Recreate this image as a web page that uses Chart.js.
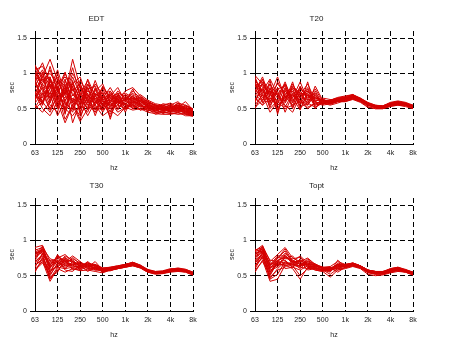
<!DOCTYPE html>
<html>
<head>
<meta charset="utf-8">
<script src="https://cdn.jsdelivr.net/npm/chart.js@4"></script>
<style>
  body { margin: 0; background: #fff; }
  .panel { position: absolute; width: 231px; height: 180px; }
</style>
</head>
<body>
<div class="panel" style="left:0;top:0"><canvas id="edt"></canvas></div>
<div class="panel" style="left:220px;top:0"><canvas id="t20"></canvas></div>
<div class="panel" style="left:0;top:167px"><canvas id="t30"></canvas></div>
<div class="panel" style="left:220px;top:167px"><canvas id="topt"></canvas></div>
<script>
// bandes 1/3 octave, 63 Hz -> 8 kHz
const bandes = [63, 80, 100, 125, 160, 200, 250, 315, 400, 500, 630, 800, 1000, 1250, 1600, 2000, 2500, 3150, 4000, 5000, 6300, 8000];
const etiquettesOctaves = ["63", "125", "250", "500", "1k", "2k", "4k", "8k"];
const ticksSec = [0, 0.5, 1, 1.5];

// EDT (sec)
const edt = [
  [1.10,0.95,1.20,0.90,0.70,1.20,0.80,0.75,0.70,0.65,0.70,0.60,0.62,0.65,0.60,0.55,0.52,0.50,0.48,0.50,0.47,0.45],
  [0.50,0.60,0.45,0.70,0.35,0.55,0.40,0.60,0.45,0.55,0.50,0.55,0.50,0.55,0.50,0.48,0.45,0.45,0.44,0.42,0.43,0.40],
  [0.90,1.05,0.80,0.95,0.60,0.85,0.95,0.65,0.85,0.70,0.75,0.60,0.70,0.60,0.62,0.58,0.50,0.52,0.55,0.50,0.48,0.46],
  [0.75,0.55,0.95,0.60,0.80,0.50,0.70,0.55,0.65,0.60,0.55,0.65,0.55,0.68,0.55,0.52,0.48,0.50,0.47,0.52,0.45,0.44],
  [1.00,0.85,0.70,1.00,0.55,0.70,0.60,0.80,0.55,0.75,0.35,0.70,0.60,0.58,0.65,0.50,0.53,0.48,0.50,0.55,0.50,0.48],
  [0.65,0.80,0.55,0.45,0.90,0.60,0.35,0.70,0.60,0.50,0.65,0.50,0.58,0.50,0.57,0.55,0.45,0.47,0.52,0.46,0.45,0.42],
  [0.85,0.70,1.10,0.75,0.65,0.95,0.70,0.90,0.60,0.65,0.80,0.62,0.75,0.80,0.68,0.60,0.55,0.53,0.50,0.58,0.55,0.50],
  [0.55,0.45,0.60,0.80,0.50,0.40,0.55,0.45,0.70,0.48,0.60,0.45,0.52,0.55,0.48,0.50,0.42,0.45,0.43,0.45,0.40,0.40],
  [1.05,1.10,0.90,0.70,1.00,0.75,0.85,0.60,0.75,0.85,0.60,0.75,0.65,0.62,0.70,0.62,0.57,0.55,0.52,0.48,0.52,0.47],
  [0.70,0.95,0.65,0.85,0.45,0.65,0.50,0.65,0.50,0.60,0.55,0.60,0.48,0.60,0.55,0.47,0.50,0.43,0.47,0.50,0.42,0.43],
  [0.80,0.60,0.85,0.55,0.75,0.85,0.65,0.50,0.80,0.55,0.70,0.55,0.65,0.52,0.62,0.57,0.52,0.55,0.58,0.52,0.60,0.48],
  [0.95,0.75,0.50,0.65,0.60,0.45,0.75,0.55,0.45,0.65,0.45,0.68,0.55,0.70,0.52,0.53,0.47,0.50,0.45,0.47,0.48,0.41],
  [0.60,1.00,0.75,0.50,0.85,0.30,0.60,0.75,0.65,0.45,0.62,0.58,0.70,0.58,0.60,0.52,0.50,0.48,0.53,0.55,0.46,0.45],
  [1.12,0.90,1.00,0.85,0.95,0.80,0.55,0.85,0.70,0.72,0.50,0.65,0.45,0.65,0.58,0.60,0.55,0.52,0.48,0.50,0.53,0.44],
  [0.72,0.50,0.40,0.60,0.30,0.55,0.32,0.50,0.55,0.40,0.48,0.40,0.52,0.48,0.50,0.45,0.43,0.42,0.42,0.44,0.42,0.39],
  [0.88,0.65,0.78,1.05,0.70,1.00,0.80,0.60,0.90,0.62,0.68,0.80,0.60,0.75,0.65,0.55,0.50,0.57,0.55,0.60,0.50,0.47],
  [0.95,1.15,0.85,0.65,0.80,0.60,0.90,0.70,0.55,0.80,0.65,0.72,0.68,0.55,0.62,0.58,0.55,0.47,0.50,0.53,0.50,0.46],
  [0.62,0.85,1.05,0.75,0.50,0.90,0.45,0.85,0.62,0.58,0.42,0.62,0.57,0.62,0.55,0.50,0.48,0.52,0.46,0.48,0.44,0.42],
  [1.08,0.78,0.62,0.92,0.82,0.55,0.72,0.48,0.78,0.52,0.75,0.58,0.62,0.72,0.60,0.56,0.50,0.49,0.51,0.55,0.52,0.47],
  [0.78,0.92,0.70,0.40,0.62,0.78,0.58,0.72,0.40,0.68,0.52,0.70,0.50,0.58,0.53,0.54,0.46,0.52,0.49,0.45,0.47,0.43],
  [0.92,0.55,0.88,0.78,1.02,0.68,0.82,0.58,0.68,0.78,0.58,0.48,0.66,0.62,0.67,0.59,0.54,0.48,0.54,0.50,0.55,0.49],
  [0.58,0.72,0.48,0.82,0.42,0.88,0.62,0.40,0.60,0.50,0.68,0.60,0.56,0.52,0.58,0.46,0.52,0.46,0.48,0.52,0.43,0.41],
  [1.02,0.88,0.95,0.58,0.72,1.08,0.68,0.78,0.82,0.60,0.62,0.68,0.72,0.66,0.63,0.61,0.53,0.55,0.50,0.57,0.51,0.46],
  [0.68,0.62,0.72,0.70,0.58,0.48,0.85,0.62,0.48,0.72,0.55,0.52,0.60,0.78,0.56,0.49,0.47,0.50,0.56,0.49,0.49,0.44],
  [0.82,1.02,0.58,0.88,0.68,0.62,0.52,0.92,0.68,0.55,0.72,0.62,0.52,0.60,0.66,0.57,0.51,0.53,0.47,0.54,0.46,0.45],
  [0.52,0.68,0.82,0.52,0.78,0.72,0.62,0.52,0.72,0.62,0.38,0.66,0.63,0.50,0.54,0.52,0.49,0.44,0.52,0.47,0.50,0.43],
  [0.98,0.82,0.65,0.72,0.92,0.58,0.78,0.68,0.58,0.82,0.66,0.56,0.70,0.64,0.61,0.53,0.56,0.51,0.45,0.51,0.54,0.48],
  [0.74,0.58,0.92,0.62,0.48,0.82,0.42,0.80,0.52,0.48,0.58,0.72,0.54,0.56,0.48,0.55,0.44,0.47,0.50,0.58,0.45,0.42]
];

// T20 (sec)
const t20 = [
  [0.97,0.85,0.70,0.95,0.65,0.80,0.70,0.75,0.65,0.62,0.60,0.63,0.65,0.68,0.63,0.57,0.53,0.52,0.56,0.58,0.56,0.53],
  [0.55,0.70,0.45,0.60,0.50,0.55,0.60,0.50,0.58,0.55,0.57,0.60,0.60,0.64,0.60,0.53,0.50,0.50,0.54,0.55,0.54,0.51],
  [0.80,0.90,0.75,0.70,0.85,0.65,0.88,0.62,0.78,0.60,0.62,0.65,0.67,0.70,0.64,0.58,0.55,0.53,0.58,0.60,0.57,0.54],
  [0.65,0.55,0.80,0.50,0.70,0.75,0.50,0.70,0.55,0.58,0.55,0.58,0.62,0.65,0.61,0.55,0.52,0.51,0.55,0.57,0.55,0.52],
  [0.90,0.75,0.60,0.80,0.60,0.85,0.65,0.80,0.60,0.65,0.63,0.62,0.66,0.67,0.62,0.56,0.53,0.53,0.57,0.58,0.58,0.53],
  [0.70,0.60,0.90,0.42,0.78,0.50,0.75,0.55,0.70,0.57,0.58,0.61,0.64,0.66,0.62,0.57,0.52,0.51,0.55,0.59,0.55,0.52],
  [0.60,0.80,0.55,0.75,0.45,0.70,0.55,0.88,0.50,0.63,0.60,0.64,0.63,0.69,0.65,0.58,0.54,0.54,0.58,0.57,0.56,0.55],
  [0.85,0.65,0.78,0.65,0.88,0.60,0.80,0.65,0.72,0.59,0.61,0.62,0.65,0.66,0.63,0.56,0.53,0.52,0.56,0.60,0.57,0.53],
  [0.75,0.95,0.65,0.55,0.65,0.78,0.58,0.60,0.65,0.61,0.56,0.60,0.61,0.64,0.60,0.55,0.51,0.52,0.54,0.56,0.55,0.51],
  [0.50,0.72,0.85,0.68,0.55,0.45,0.68,0.72,0.52,0.60,0.59,0.63,0.66,0.68,0.64,0.57,0.54,0.53,0.57,0.58,0.57,0.54],
  [0.88,0.58,0.70,0.85,0.72,0.68,0.62,0.55,0.82,0.62,0.60,0.61,0.62,0.65,0.62,0.56,0.52,0.52,0.56,0.57,0.56,0.52],
  [0.68,0.85,0.50,0.62,0.62,0.82,0.72,0.68,0.60,0.56,0.62,0.64,0.64,0.70,0.63,0.57,0.53,0.51,0.56,0.59,0.58,0.53],
  [0.92,0.72,0.62,0.58,0.80,0.58,0.82,0.62,0.68,0.58,0.62,0.66,0.68,0.70,0.65,0.59,0.55,0.54,0.59,0.61,0.59,0.55],
  [0.58,0.88,0.68,0.72,0.52,0.72,0.60,0.78,0.55,0.64,0.58,0.60,0.60,0.63,0.59,0.52,0.50,0.50,0.53,0.55,0.53,0.50],
  [0.78,0.62,0.85,0.55,0.62,0.88,0.52,0.58,0.75,0.56,0.61,0.63,0.64,0.67,0.62,0.56,0.52,0.52,0.57,0.58,0.57,0.53],
  [0.62,0.78,0.52,0.78,0.82,0.62,0.70,0.85,0.62,0.62,0.57,0.62,0.63,0.66,0.63,0.57,0.53,0.53,0.55,0.57,0.56,0.52],
  [0.95,0.68,0.75,0.60,0.58,0.75,0.62,0.52,0.58,0.60,0.60,0.64,0.65,0.69,0.64,0.58,0.54,0.53,0.57,0.59,0.57,0.54],
  [0.72,0.92,0.58,0.88,0.68,0.55,0.78,0.68,0.70,0.57,0.59,0.61,0.62,0.64,0.61,0.55,0.52,0.51,0.55,0.56,0.55,0.51],
  [0.52,0.62,0.75,0.45,0.75,0.65,0.48,0.75,0.58,0.59,0.62,0.65,0.66,0.68,0.64,0.57,0.54,0.54,0.58,0.60,0.58,0.54],
  [0.82,0.75,0.92,0.70,0.60,0.80,0.66,0.62,0.66,0.61,0.58,0.62,0.64,0.67,0.62,0.56,0.53,0.52,0.56,0.58,0.56,0.53],
  [0.66,0.55,0.65,0.62,0.85,0.52,0.72,0.58,0.52,0.58,0.60,0.63,0.65,0.68,0.63,0.57,0.53,0.53,0.57,0.59,0.57,0.52],
  [0.85,0.82,0.72,0.48,0.68,0.70,0.58,0.70,0.62,0.63,0.59,0.62,0.63,0.66,0.62,0.56,0.52,0.52,0.56,0.57,0.56,0.53]
];

// T30 (sec)
const t30 = [
  [0.90,0.93,0.70,0.75,0.80,0.70,0.65,0.68,0.64,0.60,0.62,0.64,0.66,0.68,0.64,0.58,0.55,0.56,0.58,0.59,0.57,0.54],
  [0.60,0.70,0.42,0.60,0.55,0.60,0.57,0.58,0.56,0.54,0.58,0.60,0.62,0.64,0.61,0.55,0.53,0.54,0.57,0.57,0.56,0.52],
  [0.80,0.85,0.65,0.78,0.70,0.78,0.70,0.62,0.70,0.58,0.60,0.63,0.65,0.67,0.63,0.57,0.54,0.55,0.58,0.58,0.57,0.53],
  [0.70,0.78,0.50,0.68,0.62,0.65,0.60,0.65,0.60,0.56,0.59,0.61,0.63,0.66,0.62,0.56,0.54,0.55,0.57,0.58,0.56,0.53],
  [0.85,0.80,0.72,0.65,0.78,0.72,0.62,0.70,0.62,0.59,0.61,0.62,0.64,0.68,0.64,0.58,0.55,0.55,0.58,0.59,0.58,0.54],
  [0.55,0.75,0.55,0.72,0.58,0.56,0.66,0.60,0.58,0.57,0.57,0.60,0.63,0.65,0.62,0.56,0.53,0.54,0.56,0.57,0.56,0.52],
  [0.75,0.90,0.60,0.80,0.65,0.68,0.58,0.67,0.66,0.61,0.60,0.63,0.65,0.69,0.64,0.57,0.55,0.56,0.59,0.59,0.57,0.54],
  [0.65,0.72,0.48,0.55,0.75,0.62,0.64,0.56,0.62,0.55,0.58,0.62,0.64,0.66,0.62,0.56,0.54,0.54,0.57,0.58,0.56,0.52],
  [0.88,0.82,0.68,0.70,0.68,0.74,0.68,0.64,0.66,0.60,0.61,0.62,0.66,0.67,0.63,0.57,0.54,0.55,0.58,0.59,0.57,0.53],
  [0.72,0.88,0.58,0.62,0.72,0.58,0.62,0.69,0.59,0.58,0.59,0.61,0.63,0.66,0.63,0.57,0.54,0.55,0.57,0.58,0.57,0.53],
  [0.62,0.82,0.45,0.58,0.68,0.66,0.70,0.62,0.64,0.57,0.60,0.63,0.66,0.69,0.65,0.58,0.56,0.57,0.60,0.60,0.59,0.55],
  [0.78,0.92,0.62,0.72,0.60,0.70,0.64,0.66,0.58,0.60,0.58,0.60,0.62,0.65,0.61,0.55,0.52,0.53,0.55,0.56,0.55,0.51],
  [0.58,0.68,0.52,0.66,0.74,0.60,0.58,0.63,0.65,0.55,0.59,0.62,0.64,0.67,0.63,0.57,0.55,0.55,0.58,0.59,0.57,0.53],
  [0.82,0.86,0.66,0.76,0.66,0.76,0.66,0.60,0.61,0.59,0.61,0.63,0.65,0.68,0.64,0.58,0.54,0.56,0.58,0.60,0.58,0.54],
  [0.68,0.76,0.56,0.64,0.70,0.64,0.61,0.68,0.63,0.58,0.57,0.61,0.63,0.66,0.62,0.56,0.53,0.54,0.56,0.58,0.56,0.52],
  [0.86,0.90,0.74,0.70,0.76,0.68,0.67,0.65,0.60,0.61,0.62,0.64,0.66,0.69,0.65,0.59,0.56,0.56,0.59,0.61,0.59,0.55],
  [0.64,0.74,0.46,0.62,0.60,0.62,0.63,0.58,0.62,0.56,0.58,0.60,0.62,0.64,0.61,0.55,0.53,0.53,0.56,0.57,0.55,0.51],
  [0.76,0.84,0.62,0.74,0.72,0.70,0.60,0.66,0.64,0.60,0.60,0.62,0.65,0.67,0.63,0.57,0.54,0.55,0.58,0.59,0.57,0.53],
  [0.70,0.80,0.64,0.69,0.64,0.66,0.65,0.62,0.60,0.57,0.59,0.62,0.64,0.66,0.62,0.56,0.54,0.55,0.57,0.58,0.57,0.53],
  [0.80,0.88,0.54,0.78,0.70,0.72,0.63,0.64,0.65,0.59,0.61,0.63,0.64,0.68,0.64,0.58,0.55,0.56,0.58,0.60,0.58,0.54]
];

// Topt (sec)
const topt = [
  [0.85,0.93,0.70,0.80,0.90,0.75,0.70,0.75,0.66,0.62,0.63,0.70,0.66,0.67,0.64,0.58,0.56,0.55,0.60,0.62,0.58,0.55],
  [0.55,0.72,0.42,0.45,0.65,0.60,0.45,0.62,0.58,0.56,0.48,0.58,0.60,0.63,0.60,0.52,0.50,0.51,0.54,0.56,0.55,0.51],
  [0.80,0.88,0.65,0.78,0.78,0.70,0.78,0.68,0.65,0.60,0.58,0.66,0.64,0.66,0.63,0.57,0.55,0.54,0.58,0.60,0.57,0.54],
  [0.70,0.80,0.50,0.70,0.68,0.65,0.62,0.60,0.62,0.58,0.55,0.72,0.62,0.65,0.61,0.55,0.53,0.52,0.56,0.58,0.56,0.52],
  [0.82,0.85,0.68,0.65,0.75,0.78,0.65,0.72,0.64,0.61,0.62,0.60,0.65,0.67,0.64,0.58,0.55,0.56,0.59,0.60,0.58,0.54],
  [0.60,0.78,0.55,0.72,0.60,0.62,0.70,0.58,0.60,0.59,0.60,0.64,0.63,0.64,0.62,0.56,0.52,0.53,0.55,0.59,0.56,0.52],
  [0.75,0.90,0.60,0.75,0.85,0.68,0.60,0.70,0.67,0.60,0.57,0.62,0.66,0.68,0.64,0.57,0.56,0.55,0.58,0.61,0.57,0.54],
  [0.65,0.75,0.48,0.58,0.62,0.72,0.66,0.65,0.59,0.57,0.61,0.55,0.62,0.65,0.62,0.55,0.54,0.53,0.57,0.57,0.56,0.53],
  [0.88,0.82,0.62,0.68,0.72,0.62,0.74,0.63,0.63,0.62,0.59,0.66,0.65,0.66,0.63,0.56,0.54,0.54,0.58,0.60,0.58,0.54],
  [0.72,0.86,0.58,0.62,0.80,0.66,0.64,0.67,0.61,0.58,0.60,0.63,0.63,0.67,0.63,0.57,0.53,0.55,0.57,0.59,0.57,0.53],
  [0.62,0.84,0.45,0.52,0.70,0.66,0.72,0.64,0.62,0.57,0.62,0.60,0.64,0.66,0.63,0.57,0.55,0.55,0.59,0.61,0.58,0.54],
  [0.78,0.92,0.64,0.74,0.88,0.70,0.66,0.70,0.64,0.60,0.56,0.68,0.65,0.68,0.64,0.58,0.56,0.56,0.60,0.62,0.59,0.55],
  [0.58,0.70,0.52,0.68,0.64,0.64,0.50,0.60,0.60,0.58,0.52,0.60,0.61,0.64,0.61,0.54,0.52,0.52,0.55,0.57,0.55,0.51],
  [0.84,0.88,0.66,0.76,0.74,0.74,0.76,0.66,0.66,0.62,0.60,0.64,0.66,0.67,0.64,0.58,0.55,0.55,0.58,0.61,0.58,0.54],
  [0.68,0.78,0.56,0.66,0.66,0.68,0.68,0.62,0.60,0.59,0.58,0.62,0.63,0.65,0.62,0.56,0.53,0.54,0.57,0.59,0.57,0.53],
  [0.86,0.90,0.72,0.70,0.82,0.72,0.62,0.74,0.65,0.61,0.61,0.65,0.65,0.68,0.64,0.58,0.56,0.55,0.59,0.61,0.58,0.55],
  [0.64,0.76,0.46,0.60,0.70,0.62,0.58,0.64,0.58,0.56,0.59,0.58,0.62,0.64,0.61,0.55,0.53,0.53,0.56,0.58,0.55,0.52],
  [0.76,0.84,0.60,0.72,0.76,0.70,0.70,0.68,0.63,0.60,0.60,0.66,0.64,0.66,0.63,0.57,0.55,0.54,0.58,0.60,0.57,0.54],
  [0.70,0.82,0.62,0.64,0.68,0.66,0.64,0.66,0.61,0.58,0.58,0.62,0.63,0.66,0.62,0.56,0.54,0.54,0.57,0.59,0.57,0.53],
  [0.80,0.86,0.54,0.70,0.78,0.68,0.72,0.66,0.64,0.61,0.61,0.64,0.64,0.67,0.63,0.57,0.55,0.55,0.58,0.60,0.58,0.54]
];

Chart.defaults.font.family = "'Liberation Sans', Arial, sans-serif";
Chart.defaults.color = "#222";

function creerGraphique(id, titre, series) {
  const datasets = series.map(valeurs => ({
    data: valeurs.map((v, i) => ({ x: i, y: v })),
    borderColor: "#d40000",
    borderWidth: 1,
    pointRadius: 0,
    tension: 0,
    fill: false
  }));

  new Chart(document.getElementById(id), {
    type: "line",
    data: { datasets: datasets },
    options: {
      responsive: true,
      maintainAspectRatio: false,
      animation: false,
      events: [],
      layout: { padding: { left: 0, right: 38, top: 0, bottom: 0 } },
      plugins: {
        legend: { display: false },
        tooltip: { enabled: false },
        title: {
          display: true,
          text: titre,
          font: { size: 8, weight: "normal" },
          color: "#222",
          padding: { top: 14, bottom: 7.4 }
        }
      },
      scales: {
        x: {
          type: "linear",
          min: 0,
          max: bandes.length - 1,
          afterBuildTicks: axe => { axe.ticks = etiquettesOctaves.map((_, k) => ({ value: k * 3 })); },
          afterFit: axe => { axe.height = 36; },
          ticks: {
            font: { size: 7 },
            color: "#222",
            padding: 2,
            maxRotation: 0,
            callback: v => etiquettesOctaves[v / 3]
          },
          grid: {
            color: ctx => ctx.index === 0 ? "rgba(0,0,0,0)" : "#000",
            lineWidth: 1,
            tickLength: 3,
            tickColor: "rgba(0,0,0,0)"
          },
          border: { display: true, color: "#000", width: 1, dash: [5, 3] },
          title: { display: true, text: "hz", font: { size: 7 }, color: "#222", padding: { top: 8, bottom: 8 } }
        },
        y: {
          min: 0,
          max: 1.6,
          afterBuildTicks: axe => { axe.ticks = ticksSec.map(v => ({ value: v })); },
          afterFit: axe => { axe.width = 35; },
          ticks: {
            font: { size: 7 },
            color: "#222",
            padding: 3,
            callback: v => String(v)
          },
          grid: {
            color: ctx => ctx.tick && ctx.tick.value === 0 ? "rgba(0,0,0,0)" : "#000",
            lineWidth: 1,
            tickLength: 5,
            tickColor: "#000",
            tickBorderDash: []
          },
          border: { display: true, color: "#000", width: 1, dash: [5, 3] },
          title: { display: true, text: "sec", font: { size: 7 }, color: "#222", padding: { top: 8, bottom: 8 } }
        }
      }
    }
  });
}

creerGraphique("edt", "EDT", edt);
creerGraphique("t20", "T20", t20);
creerGraphique("t30", "T30", t30);
creerGraphique("topt", "Topt", topt);
</script>
</body>
</html>
